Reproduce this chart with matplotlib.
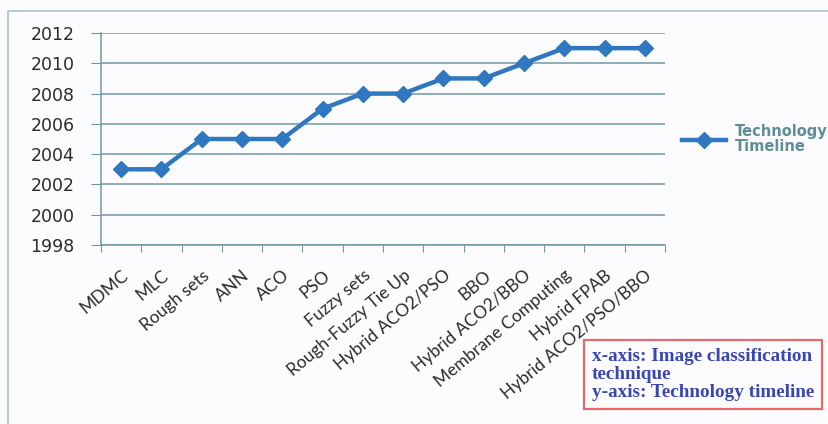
import matplotlib.pyplot as plt
from matplotlib.patches import Rectangle
from matplotlib.transforms import ScaledTranslation

techniques = ["MDMC", "MLC", "Rough sets", "ANN", "ACO", "PSO", "Fuzzy sets",
              "Rough-Fuzzy Tie Up", "Hybrid ACO2/PSO", "BBO", "Hybrid ACO2/BBO",
              "Membrane Computing", "Hybrid FPAB", "Hybrid ACO2/PSO/BBO"]
years = [2003, 2003, 2005, 2005, 2005, 2007, 2008, 2008, 2009, 2009, 2010, 2011, 2011, 2011]
y_ticks = [1998, 2000, 2002, 2004, 2006, 2008, 2010, 2012]

line_col = "#2f78c0"
grid_col = "#6f98a4"
text_col = "#2b2b2b"

fig = plt.figure(figsize=(8.29, 4.24), dpi=100)
fig.patch.set_facecolor("#fcfcfe")

# outer chart frame
fig.patches.append(Rectangle((8 / 829, -0.05), 1.0, 1 - 11 / 424 + 0.05, transform=fig.transFigure,
                             fill=False, edgecolor="#a8c4cc", linewidth=1.2))

ax = fig.add_axes([101 / 829, 1 - 245 / 424, 564 / 829, 212 / 424])
ax.set_facecolor("#fcfcfe")

x = range(len(techniques))
ax.plot(x, years, color=line_col, linewidth=3.2, marker="D", markersize=8,
        markerfacecolor=line_col, markeredgecolor=line_col, label="Technology\nTimeline",
        solid_joinstyle="round", zorder=3)

ax.set_xlim(-0.5, len(techniques) - 0.5)
ax.set_ylim(1998, 2012)
ax.set_yticks(y_ticks)
ax.set_yticklabels([str(v) for v in y_ticks], fontsize=12.5, color=text_col)
ax.set_xticks([i - 0.5 for i in range(len(techniques) + 1)], minor=False)
ax.set_xticklabels([])
ax.set_xticks(list(x), minor=True)
ax.set_xticklabels(techniques, minor=True, rotation=40, ha="right", rotation_mode="anchor",
                   fontsize=12.5, family=["Lato", "DejaVu Sans"], color=text_col)
# nudge rotated labels a little to the left
shift = ScaledTranslation(-8 / 100, 0, fig.dpi_scale_trans)
for lbl in ax.get_xticklabels(minor=True):
    lbl.set_transform(lbl.get_transform() + shift)
ax.tick_params(axis="x", which="minor", length=0, pad=16)
ax.tick_params(axis="x", which="major", length=5, color=grid_col, direction="out")
ax.tick_params(axis="y", length=7, color=grid_col, pad=12)

ax.grid(axis="y", color=grid_col, linewidth=1.1)
ax.set_axisbelow(True)
for s in ["top", "right"]:
    ax.spines[s].set_visible(False)
for s in ["left", "bottom"]:
    ax.spines[s].set_color(grid_col)
    ax.spines[s].set_linewidth(1.1)

leg = ax.legend(loc="center left", bbox_to_anchor=(1.007, 0.5), frameon=False,
                fontsize=10.5, handlelength=3.0, handletextpad=0.6, labelspacing=0.2)
for t in leg.get_texts():
    t.set_color("#5f8d98")
    t.set_fontweight("semibold")
    t.set_linespacing(1.05)

fig.text(592 / 829, 1 - 348 / 424,
         "x-axis: Image classification\ntechnique\ny-axis: Technology timeline",
         family="Liberation Serif", fontweight="bold", fontsize=13.8, color="#3a46b0",
         va="top", ha="left", linespacing=1.08,
         bbox=dict(boxstyle="square,pad=0.4", facecolor="#fcfcfe", edgecolor="#e36a6a", linewidth=1.6))

fig.savefig("out.png", dpi=100, facecolor=fig.get_facecolor())
